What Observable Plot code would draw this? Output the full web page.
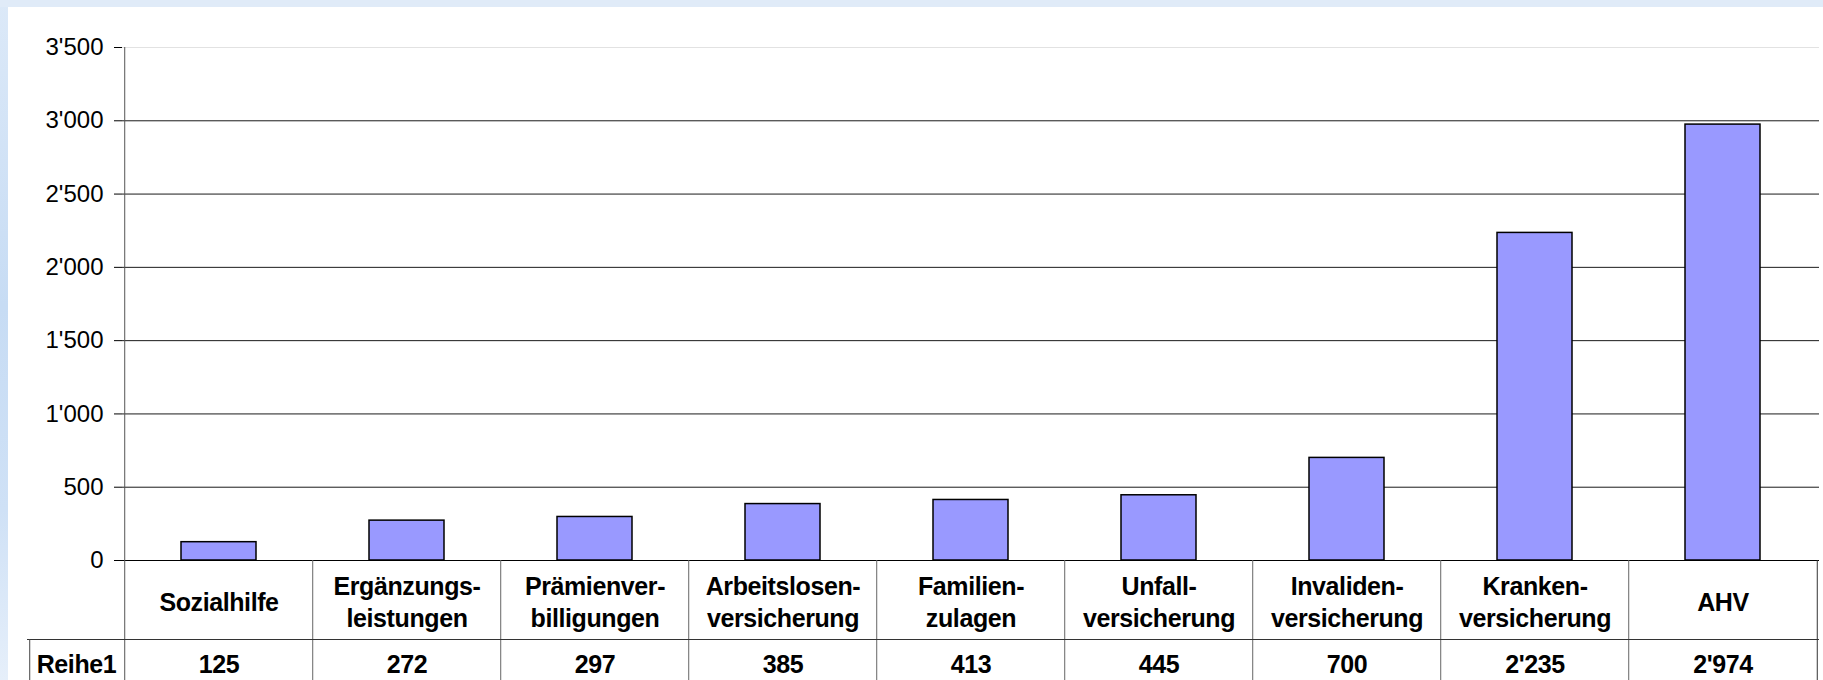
<!DOCTYPE html>
<html>
<head>
<meta charset="utf-8">
<script src="https://cdn.jsdelivr.net/npm/d3@7"></script>
<script src="https://cdn.jsdelivr.net/npm/@observablehq/plot@0.6"></script>
<style>
  html, body { margin: 0; padding: 0; }
  #page {
    position: relative; width: 1823px; height: 680px; overflow: hidden;
    background: linear-gradient(to bottom, #dce9f8 0%, #c7dcf4 45%, #cfe1f6 75%, #e6effa 100%);
  }
  #topband { position: absolute; left: 0; top: 0; width: 1823px; height: 7px; background: #e0ebf8; }
  #chart { position: absolute; left: 8px; top: 7px; width: 1815px; height: 673px; background: #fff; }
  #chart svg { display: block; }
  g[font-weight="bold"] text { letter-spacing: -0.4px; }
</style>
</head>
<body>
<div id="page"><div id="topband"></div><div id="chart"></div></div>
<script>
const categories = [
  "Sozialhilfe",
  "Ergänzungs-\nleistungen",
  "Prämienver-\nbilligungen",
  "Arbeitslosen-\nversicherung",
  "Familien-\nzulagen",
  "Unfall-\nversicherung",
  "Invaliden-\nversicherung",
  "Kranken-\nversicherung",
  "AHV"
];
const values = [125, 272, 297, 385, 413, 445, 700, 2235, 2974];
const yTicks = [0, 500, 1000, 1500, 2000, 2500, 3000, 3500];
const seriesName = "Reihe1";

const fmt = d3.formatLocale({decimal: ".", thousands: "'", grouping: [3], currency: ["", ""]}).format(",");
const data = categories.map((c, i) => ({cat: c, value: values[i], label: fmt(values[i])}));

const W = 1815, H = 673, mL = 114, mR = 4, mT = 40, mB = 120;
const plotH = H - mT - mB;
const step = (W - mL - mR) / categories.length;
const row2 = 79;      // offset of second table row below the baseline
const headW = 95;     // width of the "Reihe1" header cell
const font = "'Liberation Sans', Arial, Helvetica, sans-serif";

const chart = Plot.plot({
  width: W, height: H,
  marginLeft: mL, marginRight: mR, marginTop: mT, marginBottom: mB,
  style: {background: "white", fontFamily: font, color: "#000", overflow: "visible"},
  x: {type: "band", domain: categories, paddingInner: 0.6, paddingOuter: 0.3, axis: null},
  y: {domain: [0, 3500], axis: null, label: null},
  marks: [
    Plot.ruleY(yTicks.filter(d => d > 0 && d < 3500), {stroke: "#1a1a1a", strokeWidth: 1}),
    Plot.ruleY(yTicks.filter(d => d === 3500), {stroke: "#e2e2e2", strokeWidth: 1}),
    Plot.barY(data, {x: "cat", y: "value", fill: "#9999ff", stroke: "#000", strokeWidth: 1.5}),
    Plot.ruleY([0], {stroke: "#000", strokeWidth: 1}),
    // table: column separators
    Plot.ruleX(categories.slice(1), {x: d => d, dx: -step / 2, insetTop: plotH, insetBottom: -mB, stroke: "#666"}),
    Plot.ruleX(categories.slice(-1), {x: d => d, dx: step / 2, insetTop: plotH, insetBottom: -mB, stroke: "#333"}),
    // y axis line (continues through the table)
    Plot.ruleX(categories.slice(0, 1), {x: d => d, dx: -step / 2, insetBottom: -mB, stroke: "#555"}),
    // second row top border and header cell left border
    Plot.ruleY([0], {dy: row2, insetLeft: -headW, stroke: "#333"}),
    Plot.ruleX(categories.slice(0, 1), {x: d => d, dx: -step / 2 - headW, insetTop: plotH + row2, insetBottom: -mB, stroke: "#444"}),
    Plot.axisY({ticks: yTicks, tickFormat: fmt, tickSize: 8, tickPadding: 11, fontSize: 24, stroke: "#000", label: null}),
    Plot.text(data, {x: "cat", text: "cat", frameAnchor: "bottom", dy: 40, lineAnchor: "middle", lineHeight: 1.28, fontSize: 25, fontWeight: "bold", fill: "#000"}),
    Plot.text(data, {x: "cat", text: "label", frameAnchor: "bottom", dy: 104, lineAnchor: "middle", fontSize: 25, fontWeight: "bold", fill: "#000"}),
    Plot.text([seriesName], {text: d => d, frameAnchor: "bottom-left", dx: -46, dy: 104, lineAnchor: "middle", textAnchor: "middle", fontSize: 25, fontWeight: "bold", fill: "#000"})
  ]
});
document.getElementById("chart").appendChild(chart);
</script>
</body>
</html>
